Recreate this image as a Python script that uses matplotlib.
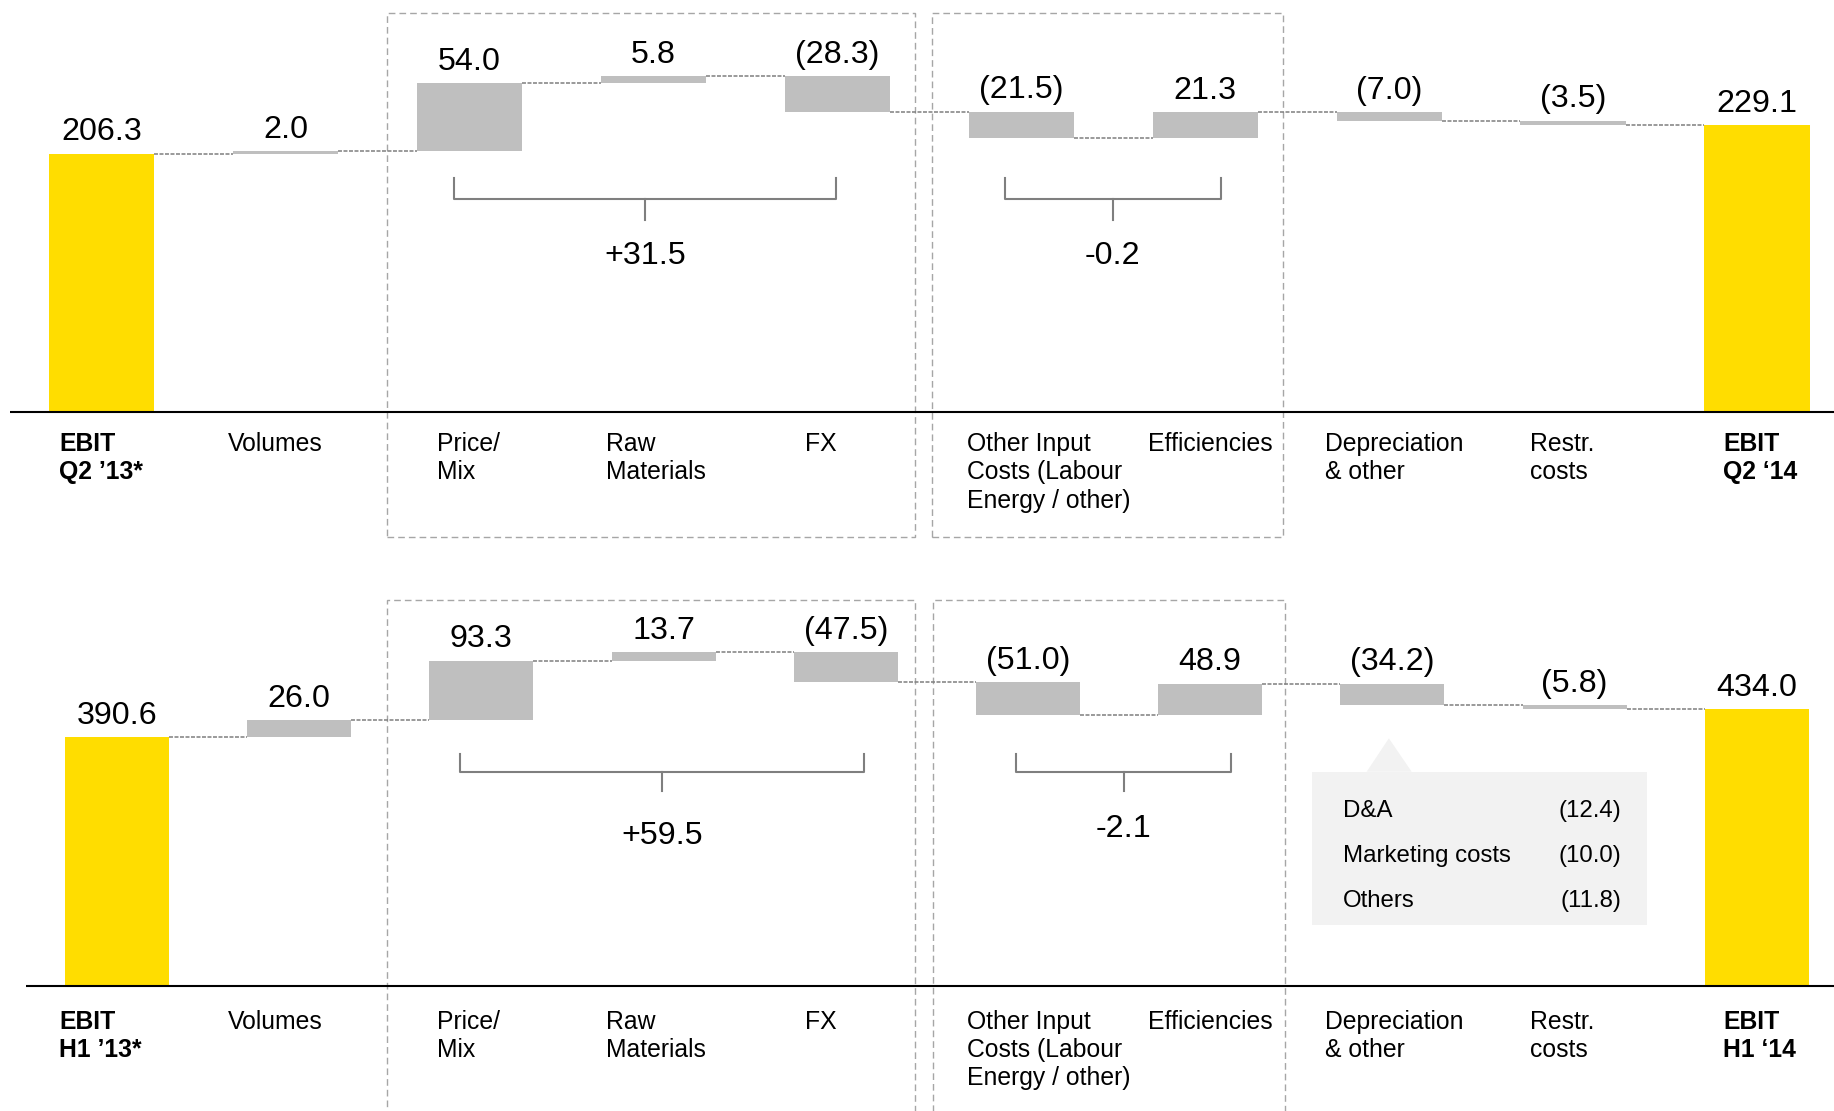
import matplotlib.pyplot as plt
from matplotlib.patches import Rectangle, Polygon
from matplotlib.transforms import blended_transform_factory

plt.rcParams['font.family'] = ['Liberation Sans', 'DejaVu Sans']

# chart data
labels_q2 = ['EBIT\nQ2 \u201913*', 'Volumes', 'Price/\nMix', 'Raw\nMaterials', 'FX',
             'Other Input\nCosts (Labour\nEnergy / other)', 'Efficiencies',
             'Depreciation\n& other', 'Restr.\ncosts', 'EBIT\nQ2 \u201814']
labels_h1 = ['EBIT\nH1 \u201913*', 'Volumes', 'Price/\nMix', 'Raw\nMaterials', 'FX',
             'Other Input\nCosts (Labour\nEnergy / other)', 'Efficiencies',
             'Depreciation\n& other', 'Restr.\ncosts', 'EBIT\nH1 \u201814']
values_q2 = [206.3, 2.0, 54.0, 5.8, -28.3, -21.5, 21.3, -7.0, -3.5, 229.1]
values_h1 = [390.6, 26.0, 93.3, 13.7, -47.5, -51.0, 48.9, -34.2, -5.8, 434.0]
group_totals_q2 = ['+31.5', '-0.2']
group_totals_h1 = ['+59.5', '-2.1']
da_items = ['D&A', 'Marketing costs', 'Others']
da_values = [-12.4, -10.0, -11.8]

YELLOW = '#FFDD00'
GREY = '#BFBFBF'
LINE = '#7F7F7F'

W, H = 1834, 1111
fig = plt.figure(figsize=(W / 100, H / 100), dpi=100)

# label left edges in figure pixels (same for both panels)
label_x = [59, 228, 437, 606, 805, 967, 1148, 1325, 1530, 1723]


def fmt(v):
    return f'({abs(v):.1f})' if v < 0 else f'{v:.1f}'


def waterfall(ax, values, labels, totals, brackets, bracket_y, total_y,
              boxes, box_y, bar_w, label_off):
    n = len(values)
    level = 0
    for i, v in enumerate(values):
        if i == 0 or i == n - 1:
            bottom, height, color = 0, v, YELLOW
            level = v
        else:
            bottom = level if v >= 0 else level + v
            height, color = abs(v), GREY
            level += v
        ax.bar(i, height, bottom=bottom, width=bar_w, color=color, zorder=2)
        ax.annotate(fmt(v), (i, bottom + height), xytext=(0, 9.5),
                    textcoords='offset points', ha='center', va='baseline',
                    fontsize=23.2, color='black')
        # connector to next bar
        if i < n - 1:
            ax.plot([i + bar_w / 2, i + 1 - bar_w / 2], [level, level],
                    color=LINE, lw=1.1, dashes=(2.6, 1.0), zorder=1)

    # baseline
    ax.plot([-0.5, ax.get_xlim()[1]], [0, 0], color='black', lw=1.5,
            zorder=3, solid_capstyle='butt')

    # category labels
    tr = blended_transform_factory(fig.transFigure, ax.transData)
    for lx, lab in zip(label_x, labels):
        bold = lab.startswith('EBIT')
        ax.annotate(lab, (lx / W, 0), xycoords=tr, xytext=(0, label_off),
                    textcoords='offset points', ha='left', va='top',
                    fontsize=17.8, fontweight='bold' if bold else 'normal',
                    linespacing=1.22)

    # brackets with group totals
    y_top, y_h, y_stem = bracket_y
    for (x0, x1), txt, ty in zip(brackets, totals, total_y):
        xm = (x0 + x1) / 2
        ax.plot([x0, x0, x1, x1], [y_top, y_h, y_h, y_top], color=LINE, lw=1.5)
        ax.plot([xm, xm], [y_h, y_stem], color=LINE, lw=1.5)
        ax.text(xm, ty, txt, ha='center', va='center', fontsize=23.2)

    # dashed group boxes
    for x0, x1 in boxes:
        ax.add_patch(Rectangle((x0, box_y[0]), x1 - x0, box_y[1] - box_y[0],
                               fill=False, ec='#A6A6A6', lw=1.0,
                               ls=(0, (4.8, 2.9)), zorder=0))


# top panel: Q2
ax1 = fig.add_axes([0, 1 - 560 / H, 1, 560 / H])
ax1.set_xlim(-0.5536, 9.419)
ax1.set_ylim(-118.1, 328.8)
ax1.axis('off')
waterfall(ax1, values_q2, labels_q2, group_totals_q2,
          [(1.916, 3.993), (4.911, 6.084)], (186.5, 170.0, 153.2), [124.9, 124.9],
          [(1.552, 4.422), (4.513, 6.422)], (-99.8, 318.7), 0.572, -14.6)

# bottom panel: H1
ax2 = fig.add_axes([0, 0, 1, 551 / H])
ax2.set_xlim(-0.642, 9.424)
ax2.set_ylim(-195.9, 667.7)
ax2.axis('off')
waterfall(ax2, values_h1, labels_h1, group_totals_h1,
          [(1.880, 4.102), (4.936, 6.117)], (363.0, 335.6, 306.1), [234.7, 245.5],
          [(1.482, 4.380), (4.480, 6.413)], (-260, 605.0), 0.571, -17.0)

# callout with depreciation breakdown
ax2.add_patch(Rectangle((6.560, 95.6), 1.836, 240.3, color='#F2F2F2', lw=0, zorder=1))
ax2.add_patch(Polygon([(6.859, 335.9), (7.106, 335.9), (6.981, 388.2)],
                      closed=True, color='#F2F2F2', lw=0, zorder=1))
for k, (item, val) in enumerate(zip(da_items, da_values)):
    y = 265.2 - k * 70.55
    ax2.text(6.727, y, item, ha='left', va='baseline', fontsize=17.3, zorder=2)
    ax2.text(8.258, y, fmt(val), ha='right', va='baseline', fontsize=17.3, zorder=2)

fig.savefig('out.png', dpi=100)
